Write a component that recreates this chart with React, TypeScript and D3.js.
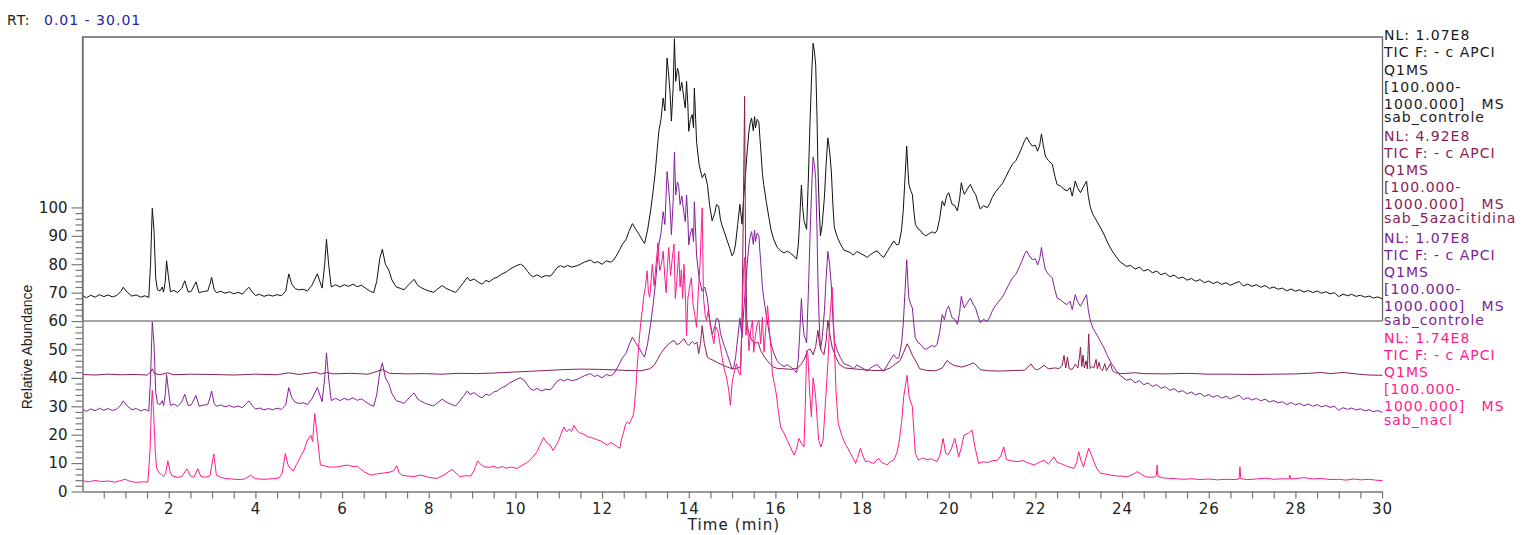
import React, { useEffect, useRef } from 'react';
import * as d3 from 'd3';

// run window (min)
const rtLabel = '0.01 - 30.01';
const timeDomain = [0.01, 30.01];

// sab_controle TIC, [time (min), relative abundance as read on the plot]
// (the same file is drawn twice: upper box and lower stack)
const controle: [number, number][] = [
  [0.01, 69.0], [0.1, 68.2], [0.2, 69.1], [0.3, 68.4], [0.4, 69.3], [0.5, 68.6], [0.6, 69.2], [0.7, 68.5],
  [0.8, 69.0], [0.9, 70.5], [0.95, 71.9], [1.05, 70.0], [1.15, 68.8], [1.25, 69.2], [1.35, 68.4], [1.45, 68.9],
  [1.54, 68.3], [1.58, 80], [1.62, 99.7], [1.66, 92], [1.7, 75], [1.74, 71.0], [1.8, 70.6], [1.85, 72.0],
  [1.88, 70.2], [1.92, 74], [1.95, 81.2], [1.99, 76], [2.04, 70.3], [2.12, 70.8], [2.2, 70.0], [2.3, 71.5],
  [2.37, 74.2], [2.45, 70.2], [2.52, 70.5], [2.63, 73.8], [2.7, 70.0], [2.8, 70.4], [2.9, 70.6], [2.95, 73],
  [2.99, 75.4], [3.05, 71], [3.1, 70.0], [3.2, 70.5], [3.3, 69.8], [3.4, 70.3], [3.5, 69.6], [3.6, 70.1],
  [3.7, 69.5], [3.78, 70.8], [3.85, 71.9], [3.93, 70.2], [4.0, 69.0], [4.1, 69.4], [4.2, 68.7], [4.3, 69.2],
  [4.4, 68.8], [4.5, 69.3], [4.6, 68.9], [4.7, 70.5], [4.77, 76.6], [4.84, 73], [4.92, 71.4], [5.0, 71.0],
  [5.1, 71.2], [5.2, 70.6], [5.3, 72.5], [5.43, 76.6], [5.54, 71.6], [5.6, 80], [5.64, 88.8], [5.69, 80],
  [5.75, 72.0], [5.85, 72.8], [5.95, 72.0], [6.05, 72.8], [6.15, 72.2], [6.25, 73.0], [6.35, 72.1], [6.45, 72.6],
  [6.55, 71.5], [6.65, 70.5], [6.73, 70.0], [6.8, 74], [6.87, 82], [6.93, 85.3], [7.0, 80], [7.08, 77.9],
  [7.15, 74.5], [7.25, 72.0], [7.35, 71.5], [7.43, 71.0], [7.55, 73], [7.66, 74.7], [7.75, 72.5], [7.81, 71.9],
  [7.9, 71.2], [8.0, 70.6], [8.11, 70.1], [8.2, 71.2], [8.31, 72.5], [8.4, 71.5], [8.5, 70.8], [8.62, 70.1],
  [8.7, 71.5], [8.8, 73.5], [8.89, 75.4], [8.95, 74.2], [9.05, 74.8], [9.15, 73.6], [9.23, 73.0], [9.32, 74.3],
  [9.4, 73.8], [9.5, 75.0], [9.58, 75.4], [9.68, 76.5], [9.78, 77.2], [9.86, 78.1], [9.95, 78.9], [10.04, 79.6],
  [10.12, 80.0], [10.2, 79.2], [10.28, 77.5], [10.36, 76.0], [10.42, 75.6], [10.5, 76.3], [10.6, 75.4], [10.7, 76.0],
  [10.81, 75.8], [10.9, 77.5], [10.96, 78.8], [11.04, 79.5], [11.12, 78.9], [11.2, 79.6], [11.3, 79.0], [11.43, 79.5],
  [11.52, 80.2], [11.6, 80.8], [11.73, 81.5], [11.82, 80.5], [11.9, 80.9], [12.0, 80.0], [12.1, 81.2], [12.2, 80.7],
  [12.27, 81.5], [12.35, 83.5], [12.42, 85.5], [12.47, 87.1], [12.55, 88.6], [12.62, 91.5], [12.7, 94.3], [12.77, 92.5],
  [12.85, 90.6], [12.93, 88.5], [12.98, 87.3], [13.05, 92], [13.12, 98.8], [13.18, 106], [13.23, 112.8], [13.27, 120],
  [13.31, 126.8], [13.36, 131], [13.41, 138.5], [13.45, 134], [13.5, 152.6], [13.53, 147.9], [13.57, 140], [13.6, 130.4],
  [13.64, 142], [13.67, 159.4], [13.7, 144.4], [13.74, 149], [13.77, 147.3], [13.8, 141], [13.84, 144], [13.89, 138.0],
  [13.92, 135], [13.95, 144.4], [13.98, 136], [14.0, 126.8], [14.04, 131], [14.08, 132.7], [14.11, 128], [14.13, 142.0],
  [14.16, 131], [14.18, 123.3], [14.24, 115], [14.31, 110.5], [14.37, 112], [14.43, 108.1], [14.48, 101], [14.54, 95.3],
  [14.6, 98], [14.64, 101], [14.69, 100.5], [14.73, 96], [14.77, 93.5], [14.83, 91], [14.89, 88.2], [14.95, 85.5],
  [15.0, 83.0], [15.04, 84], [15.08, 87.1], [15.13, 94], [15.18, 101.1], [15.23, 94.1], [15.27, 104], [15.31, 111.6],
  [15.35, 120], [15.39, 126.8], [15.42, 129.8], [15.45, 131.5], [15.49, 127], [15.52, 132], [15.54, 128.0], [15.58, 131],
  [15.62, 130.0], [15.64, 125], [15.66, 121.0], [15.7, 112], [15.73, 108.1], [15.79, 102], [15.85, 96.4], [15.9, 92],
  [15.96, 88.8], [16.04, 86.0], [16.12, 84.7], [16.2, 84.0], [16.28, 84.6], [16.35, 83.8], [16.42, 83.0], [16.49, 81.8],
  [16.53, 87], [16.56, 95.3], [16.6, 107.9], [16.63, 100], [16.66, 95.3], [16.72, 92.3], [16.76, 110], [16.8, 130.4],
  [16.84, 148], [16.87, 157.8], [16.9, 155], [16.93, 150.2], [16.96, 132], [16.98, 115.2], [17.01, 100], [17.04, 90.0],
  [17.08, 94], [17.13, 103.4], [17.17, 115], [17.21, 124.5], [17.25, 120], [17.29, 112.8], [17.33, 100], [17.36, 92.9],
  [17.43, 89.5], [17.5, 87.1], [17.58, 85.0], [17.65, 84.6], [17.73, 84.1], [17.8, 83.2], [17.88, 84.5], [17.96, 83.8],
  [18.04, 83.2], [18.12, 82.4], [18.2, 83.5], [18.27, 84.2], [18.35, 84.7], [18.42, 83.4], [18.5, 82.4], [18.58, 84.5],
  [18.65, 86.2], [18.73, 88.2], [18.8, 86.8], [18.85, 87.1], [18.91, 92], [18.95, 98.8], [18.99, 110], [19.03, 121.6],
  [19.06, 113], [19.08, 108.1], [19.12, 106], [19.16, 104.6], [19.2, 98], [19.23, 94.1], [19.29, 92.5], [19.35, 91.8],
  [19.41, 90.6], [19.47, 90.0], [19.55, 90.8], [19.62, 91.4], [19.68, 90.9], [19.73, 91.8], [19.79, 96], [19.85, 102.3],
  [19.9, 100.5], [19.95, 104], [20.0, 105.2], [20.04, 103], [20.08, 101.1], [20.14, 100.6], [20.2, 98.8], [20.25, 103],
  [20.29, 108.7], [20.33, 106], [20.36, 104.6], [20.43, 106.5], [20.5, 108.1], [20.56, 106], [20.62, 104.6], [20.67, 102],
  [20.73, 99.4], [20.8, 100.6], [20.89, 99.9], [20.95, 101.5], [21.0, 103.4], [21.08, 105.5], [21.16, 107.0], [21.24, 108.5],
  [21.31, 110.5], [21.39, 113.0], [21.47, 115.2], [21.55, 116.5], [21.62, 118.7], [21.7, 121.5], [21.75, 123.5], [21.8, 124.7],
  [21.86, 123], [21.93, 121.6], [22.0, 121.9], [22.05, 119.8], [22.1, 122], [22.14, 125.9], [22.18, 122], [22.23, 118.1],
  [22.3, 116.5], [22.39, 115.2], [22.45, 111], [22.5, 108.1], [22.58, 107.5], [22.66, 106.4], [22.73, 105.8], [22.8, 107],
  [22.85, 104.0], [22.92, 109.3], [22.97, 107], [23.04, 105.2], [23.1, 107], [23.18, 109.3], [23.22, 104], [23.27, 99.9],
  [23.33, 97.5], [23.39, 95.9], [23.48, 93.5], [23.58, 90.6], [23.67, 87.5], [23.77, 84.7], [23.87, 82.5], [23.97, 80.6],
  [24.0, 80.4], [24.1, 79.2], [24.2, 79.6], [24.3, 78.3], [24.4, 79.0], [24.5, 77.6], [24.6, 78.2], [24.7, 77.0],
  [24.8, 77.6], [24.9, 76.3], [25.0, 76.9], [25.1, 75.6], [25.2, 76.2], [25.3, 75.0], [25.4, 75.5], [25.5, 74.4],
  [25.6, 75.0], [25.7, 74.0], [25.8, 74.6], [25.9, 73.5], [26.0, 74.1], [26.1, 73.2], [26.2, 73.8], [26.3, 72.9],
  [26.4, 73.5], [26.5, 72.6], [26.6, 73.3], [26.7, 73.9], [26.8, 72.4], [26.9, 73.0], [27.0, 72.2], [27.1, 72.8],
  [27.2, 71.9], [27.3, 72.5], [27.4, 71.5], [27.5, 72.0], [27.6, 71.2], [27.7, 71.6], [27.8, 70.6], [27.9, 71.3],
  [28.0, 70.5], [28.1, 71.0], [28.2, 70.2], [28.3, 70.8], [28.4, 70.0], [28.5, 70.6], [28.6, 69.8], [28.7, 70.3],
  [28.8, 69.6], [28.9, 70.0], [29.0, 68.6], [29.1, 69.5], [29.2, 68.9], [29.3, 69.4], [29.4, 68.7], [29.5, 69.1],
  [29.6, 68.4], [29.7, 68.8], [29.8, 68.1], [29.9, 68.5], [30.01, 67.8],
];

// sab_5azacitidina TIC
const azacitidina: [number, number][] = [
  [0.01, 41.2], [0.3, 41.0], [0.6, 41.3], [0.9, 41.1], [1.2, 41.2], [1.5, 41.0], [1.58, 42], [1.62, 43.2],
  [1.67, 41.5], [1.8, 41.1], [1.98, 41.8], [2.1, 41.1], [2.5, 41.3], [3.0, 41.2], [3.5, 41.0], [4.0, 41.3],
  [4.5, 41.1], [4.77, 41.8], [5.0, 41.2], [5.4, 42.0], [5.5, 41.3], [5.64, 41.9], [5.8, 41.4], [6.2, 41.6],
  [6.6, 41.3], [6.93, 42.9], [7.1, 41.6], [7.5, 41.4], [7.9, 41.5], [8.3, 41.3], [8.7, 41.6], [9.1, 41.5],
  [9.5, 41.7], [9.9, 42.0], [10.3, 42.3], [10.7, 42.6], [11.1, 42.9], [11.5, 43.1], [11.9, 43.0], [12.3, 42.8],
  [12.6, 42.6], [12.9, 42.5], [13.1, 43.2], [13.2, 44.4], [13.28, 46.5], [13.35, 48.5], [13.42, 50.0], [13.5, 51.4],
  [13.58, 52.5], [13.66, 53.2], [13.72, 51.8], [13.78, 52.0], [13.84, 53.0], [13.89, 53.8], [13.95, 52.2], [14.0, 51.4],
  [14.08, 52.8], [14.14, 51.9], [14.19, 52.6], [14.23, 48.5], [14.27, 52], [14.31, 58.4], [14.36, 52], [14.43, 47.3],
  [14.5, 46.6], [14.58, 46.1], [14.66, 45.4], [14.73, 44.9], [14.8, 44.4], [14.89, 43.8], [14.97, 43.4], [15.04, 43.2],
  [15.12, 43.4], [15.2, 44.0], [15.23, 60], [15.26, 100], [15.29, 139.1], [15.31, 86], [15.34, 60], [15.37, 56.7],
  [15.43, 54.0], [15.48, 52.8], [15.54, 52.2], [15.6, 52.6], [15.66, 49.6], [15.74, 47.5], [15.81, 46.1], [15.88, 44.8],
  [15.96, 43.8], [16.05, 43.3], [16.2, 43.2], [16.35, 43.0], [16.5, 43.3], [16.6, 44.9], [16.68, 47], [16.74, 49.6],
  [16.8, 50.2], [16.87, 48.2], [16.93, 51], [16.98, 56.7], [17.02, 52], [17.06, 49.6], [17.12, 48.2], [17.17, 53],
  [17.21, 60.2], [17.26, 55], [17.31, 50.8], [17.39, 47.5], [17.47, 44.9], [17.6, 43.5], [17.8, 43.2], [18.0, 42.9],
  [18.3, 42.6], [18.5, 42.6], [18.65, 43.5], [18.73, 44.4], [18.88, 46.1], [18.96, 49], [19.04, 52.0], [19.1, 50.2],
  [19.16, 48], [19.21, 46.7], [19.33, 43.2], [19.5, 42.6], [19.7, 42.5], [19.85, 43.5], [19.96, 46.1], [20.05, 45.0],
  [20.12, 44.4], [20.3, 43.8], [20.45, 44.5], [20.58, 45.3], [20.73, 42.9], [20.9, 42.5], [21.2, 42.4], [21.5, 42.6],
  [21.75, 42.7], [21.9, 44.9], [21.98, 43.2], [22.05, 42.8], [22.2, 44.4], [22.3, 43.2], [22.45, 43.5], [22.55, 43.3],
  [22.62, 44.5], [22.66, 47.9], [22.7, 43.5], [22.74, 47.3], [22.78, 43.2], [22.85, 43.0], [22.92, 44.8], [22.98, 43.5],
  [23.02, 47.9], [23.04, 50.8], [23.07, 44], [23.1, 48], [23.13, 43.5], [23.17, 46], [23.2, 43.2], [23.23, 55.5],
  [23.26, 43.3], [23.3, 44], [23.35, 43.5], [23.4, 46.5], [23.43, 43.2], [23.47, 45.5], [23.5, 43.3], [23.55, 42.6],
  [23.6, 45], [23.64, 42.5], [23.73, 45.0], [23.78, 42.5], [23.85, 41.8], [23.97, 41.5], [24.1, 41.6], [24.3, 41.8],
  [24.5, 41.5], [25.0, 41.4], [25.5, 41.6], [26.0, 41.3], [26.5, 41.3], [27.0, 41.2], [27.5, 41.3], [28.0, 41.4],
  [28.3, 41.6], [28.6, 41.9], [28.8, 41.5], [29.1, 41.9], [29.4, 41.4], [29.7, 41.0], [30.01, 40.9],
];

// sab_nacl TIC
const nacl: [number, number][] = [
  [0.01, 3.8], [0.15, 3.4], [0.3, 3.9], [0.45, 3.5], [0.6, 3.7], [0.75, 3.3], [0.9, 3.9], [1.0, 4.3],
  [1.1, 3.6], [1.25, 3.2], [1.4, 3.4], [1.52, 3.3], [1.57, 15], [1.6, 30], [1.62, 35.6], [1.65, 28],
  [1.69, 14], [1.72, 8.3], [1.78, 6.5], [1.83, 6.0], [1.88, 5.2], [1.93, 6.5], [1.98, 10.8], [2.03, 7.0],
  [2.08, 5.5], [2.2, 5.0], [2.3, 5.2], [2.42, 8.0], [2.5, 5.5], [2.58, 5.0], [2.67, 8.0], [2.74, 5.3],
  [2.85, 5.0], [2.95, 5.5], [3.04, 13.2], [3.1, 5.7], [3.2, 5.0], [3.3, 4.6], [3.45, 4.4], [3.6, 4.2],
  [3.75, 4.4], [3.89, 5.7], [4.0, 4.5], [4.2, 4.3], [4.4, 4.5], [4.55, 4.8], [4.62, 6.5], [4.69, 13.4],
  [4.76, 9.0], [4.87, 7.2], [4.95, 9.5], [5.04, 12.2], [5.12, 14.5], [5.2, 18.1], [5.28, 19.8], [5.32, 17.6],
  [5.37, 27.4], [5.43, 19.3], [5.5, 9.3], [5.6, 9.0], [5.7, 8.6], [5.87, 8.6], [6.0, 9.0], [6.12, 9.3],
  [6.25, 8.8], [6.35, 8.9], [6.5, 7.0], [6.66, 5.8], [6.8, 6.2], [6.95, 6.5], [7.1, 6.8], [7.2, 7.4],
  [7.26, 9.1], [7.32, 6.5], [7.39, 5.7], [7.5, 5.5], [7.65, 5.2], [7.81, 5.8], [8.0, 5.0], [8.19, 4.6],
  [8.35, 5.8], [8.45, 6.9], [8.54, 7.8], [8.63, 6.5], [8.72, 5.2], [8.85, 5.6], [8.97, 5.4], [9.05, 7.5],
  [9.13, 10.8], [9.2, 9.5], [9.28, 8.7], [9.4, 8.5], [9.5, 8.9], [9.6, 8.2], [9.7, 8.8], [9.78, 8.2],
  [9.9, 8.6], [10.04, 8.1], [10.15, 9.2], [10.25, 10.0], [10.34, 11.1], [10.42, 12.5], [10.5, 14.0], [10.58, 16.8],
  [10.65, 19.0], [10.72, 17.2], [10.8, 16.4], [10.87, 14.4], [10.95, 16.5], [11.0, 18.0], [11.06, 20.5], [11.12, 22.7],
  [11.18, 21.0], [11.24, 22.0], [11.3, 21.2], [11.35, 23.3], [11.42, 21.5], [11.5, 20.5], [11.58, 20.2], [11.66, 19.3],
  [11.75, 19.0], [11.82, 18.6], [11.89, 18.2], [11.97, 17.8], [12.05, 17.0], [12.12, 16.4], [12.2, 17.2], [12.27, 16.6],
  [12.35, 15.8], [12.41, 15.2], [12.45, 18.5], [12.49, 20.5], [12.54, 23.5], [12.58, 24.5], [12.63, 23.8], [12.68, 25.5],
  [12.73, 27.4], [12.78, 36], [12.81, 43.8], [12.85, 52], [12.89, 59.0], [12.93, 64], [12.96, 68.4], [13.0, 72],
  [13.04, 77.7], [13.07, 70], [13.1, 68.4], [13.13, 74], [13.16, 80.0], [13.2, 72.4], [13.24, 79], [13.27, 84],
  [13.29, 87.6], [13.33, 77.7], [13.37, 80], [13.41, 84.6], [13.45, 75], [13.48, 70], [13.51, 80], [13.54, 85.9],
  [13.58, 76], [13.62, 82], [13.66, 87.1], [13.69, 68.0], [13.73, 75], [13.77, 84.6], [13.8, 72], [13.83, 78],
  [13.86, 68], [13.89, 80.0], [13.92, 70], [13.95, 54.9], [13.98, 68], [14.02, 72], [14.06, 75.3], [14.1, 66.0],
  [14.14, 62], [14.18, 57.8], [14.22, 70], [14.26, 80.0], [14.31, 99.9], [14.34, 68.4], [14.38, 62], [14.41, 60.2],
  [14.45, 63.7], [14.5, 58], [14.54, 55], [14.58, 52.0], [14.62, 58], [14.67, 56.7], [14.72, 52], [14.77, 47.3],
  [14.82, 43], [14.87, 40.3], [14.92, 36], [14.96, 30.4], [15.0, 38], [15.04, 41.5], [15.1, 45.0], [15.15, 42],
  [15.19, 41.0], [15.23, 60.2], [15.26, 76.6], [15.29, 82.4], [15.32, 55], [15.35, 60.2], [15.39, 49.6], [15.43, 56.7],
  [15.47, 60.2], [15.5, 49], [15.54, 55], [15.58, 59.0], [15.62, 60.2], [15.66, 52], [15.7, 61.3], [15.74, 49.0],
  [15.78, 58], [15.82, 65.4], [15.86, 56.7], [15.9, 50], [15.93, 41.5], [16.02, 34.4], [16.07, 28], [16.12, 22.7],
  [16.2, 20.5], [16.27, 18.1], [16.35, 15.5], [16.43, 12.8], [16.49, 15], [16.54, 18.7], [16.6, 17], [16.66, 15.7],
  [16.69, 30], [16.72, 49.6], [16.75, 48], [16.79, 35], [16.83, 26.3], [16.87, 40.0], [16.9, 37], [16.93, 33],
  [16.97, 24], [17.0, 18], [17.05, 15.7], [17.1, 18], [17.15, 30], [17.21, 45], [17.26, 62], [17.31, 71.9],
  [17.35, 56], [17.4, 35], [17.45, 23.9], [17.54, 19.4], [17.62, 16.5], [17.68, 15], [17.73, 13.4], [17.8, 11.5],
  [17.85, 9.9], [17.9, 12], [17.96, 15.2], [18.02, 12.5], [18.08, 10.5], [18.15, 10.8], [18.2, 10.2], [18.27, 9.9],
  [18.33, 11.0], [18.39, 11.6], [18.45, 10.2], [18.52, 9.8], [18.58, 9.3], [18.65, 10.5], [18.73, 11.0], [18.8, 13.5],
  [18.85, 16.9], [18.91, 24], [18.96, 33.3], [19.04, 40.9], [19.08, 34], [19.12, 31.5], [19.16, 30], [19.2, 20],
  [19.23, 13.4], [19.3, 11.0], [19.4, 11.8], [19.5, 11.2], [19.6, 11.5], [19.73, 10.5], [19.8, 13], [19.87, 18.7],
  [19.93, 13.4], [19.99, 13.0], [20.06, 15], [20.14, 18.7], [20.23, 12.2], [20.3, 16], [20.35, 19.8], [20.45, 20.5],
  [20.54, 21.6], [20.6, 16], [20.69, 9.9], [20.8, 10.5], [20.9, 10.2], [21.0, 10.8], [21.12, 11.0], [21.2, 12.5],
  [21.27, 15.7], [21.33, 11.2], [21.45, 10.8], [21.6, 10.5], [21.7, 10.9], [21.81, 10.2], [21.97, 9.3], [22.08, 10.2],
  [22.2, 11.0], [22.3, 9.6], [22.43, 12.2], [22.5, 10.2], [22.58, 9.9], [22.68, 9.2], [22.77, 8.7], [22.89, 8.1],
  [22.95, 10], [23.0, 14.0], [23.05, 11], [23.11, 8.7], [23.17, 12], [23.23, 15.2], [23.29, 13], [23.35, 10.5],
  [23.42, 8], [23.5, 6.4], [23.6, 6.2], [23.73, 5.8], [23.85, 5.5], [24.0, 5.4], [24.12, 5.2], [24.25, 6.0],
  [24.35, 7.0], [24.45, 6.0], [24.55, 5.2], [24.65, 5.0], [24.75, 5.1], [24.79, 5.5], [24.81, 9.3], [24.83, 5.3],
  [24.95, 4.8], [25.1, 4.6], [25.25, 4.5], [25.43, 4.3], [25.6, 4.5], [25.8, 4.2], [26.0, 4.4], [26.2, 4.1],
  [26.4, 4.3], [26.58, 4.2], [26.7, 4.4], [26.72, 8.7], [26.74, 4.5], [26.9, 4.2], [27.1, 4.4], [27.3, 4.7],
  [27.5, 4.3], [27.7, 4.5], [27.85, 4.4], [27.87, 5.8], [27.89, 4.4], [28.05, 4.6], [28.2, 4.9], [28.4, 4.4],
  [28.6, 4.6], [28.8, 4.2], [29.0, 4.3], [29.17, 4.0], [29.35, 4.4], [29.5, 4.1], [29.7, 4.3], [29.85, 4.0],
  [30.01, 3.8],
];

// header text of each trace block (right side)
const blockNL = ['NL: 1.07E8', 'NL: 4.92E8', 'NL: 1.07E8', 'NL: 1.74E8'];
const blockFilter = ['TIC F: - c APCI', 'Q1MS', '[100.000-', '1000.000]   MS'];
const blockName = ['sab_controle', 'sab_5azacitidina', 'sab_controle', 'sab_nacl'];

const yTickMax = 100;

const W = 1536;
const H = 535;
const margin = { left: 82.5, right: 153.5, top: 37, bottom: 43.5 };

const App = () => {
  const svgRef = useRef<SVGSVGElement>(null);

  useEffect(() => {
    const svg = d3.select(svgRef.current);
    svg.selectAll('*').remove();

    const x = d3.scaleLinear().domain(timeDomain).range([margin.left, W - margin.right]);
    const y = d3.scaleLinear().domain([0, 160]).range([H - margin.bottom, margin.top]);

    // upper box of the first trace
    svg.append('path')
      .attr('d', `M${x(timeDomain[0])},${y(60)}V${y(160)}H${x(timeDomain[1])}V${y(60)}`)
      .attr('fill', 'none')
      .attr('stroke', '#666')
      .attr('stroke-width', 1.3);

    svg.append('line')
      .attr('x1', x(timeDomain[0])).attr('x2', x(timeDomain[1]))
      .attr('y1', y(60)).attr('y2', y(60))
      .attr('stroke', '#a3a3a3')
      .attr('stroke-width', 2);

    /* traces -------------------------------*/
    const traces = [
      { name: 'controle-top', data: controle, offset: 0, color: '#111111' },
      { name: 'controle-low', data: controle, offset: -40, color: '#84209b' },
      { name: 'azacitidina', data: azacitidina, offset: 0, color: '#8c1c55' },
      { name: 'nacl', data: nacl, offset: 0, color: '#ff1a8c' },
    ];

    traces.forEach(tr => {
      const line = d3.line<[number, number]>()
        .x(d => x(d[0]))
        .y(d => y(d[1] + tr.offset));
      svg.append('path')
        .datum(tr.data)
        .attr('class', tr.name)
        .attr('d', line)
        .attr('fill', 'none')
        .attr('stroke', tr.color)
        .attr('stroke-width', 1)
        .attr('stroke-linejoin', 'round');
    });

    /* axes -------------------------------*/
    const xAxis = d3.axisBottom(x)
      .tickValues(d3.range(0.5, 30.01, 0.5))
      .tickSize(7)
      .tickSizeOuter(0)
      .tickPadding(5)
      .tickFormat(d => (+d % 2 === 0 ? String(d) : ''));

    const gx = svg.append('g')
      .attr('transform', `translate(0, ${H - margin.bottom})`)
      .call(xAxis);

    const yAxis = d3.axisLeft(y)
      .tickValues(d3.range(0, yTickMax + 1, 2))
      .tickSize(7)
      .tickSizeOuter(0)
      .tickPadding(8)
      .tickFormat(d => (+d % 10 === 0 ? String(d) : ''));

    const gy = svg.append('g')
      .attr('transform', `translate(${margin.left}, 0)`)
      .call(yAxis);

    gy.selectAll<SVGGElement, number>('.tick')
      .filter(d => d % 10 === 0)
      .select('line')
      .attr('x2', -11);

    [gx, gy].forEach(g => {
      g.select('.domain').attr('stroke', '#777').attr('stroke-width', 1.5);
      g.selectAll('.tick line').attr('stroke', '#777').attr('stroke-width', 1.2);
      g.selectAll('.tick text')
        .attr('fill', '#222')
        .style('font-family', '"DejaVu Sans", sans-serif')
        .style('font-size', '15px');
    });
    gx.selectAll('.tick text').style('letter-spacing', '1px');

    svg.append('text')
      .attr('x', 734)
      .attr('y', 530)
      .attr('text-anchor', 'middle')
      .style('font-family', '"DejaVu Sans", sans-serif')
      .style('font-size', '15px')
      .style('letter-spacing', '1.1px')
      .attr('fill', '#222')
      .text('Time (min)');

    svg.append('text')
      .attr('transform', 'translate(31.5, 347) rotate(-90)')
      .attr('text-anchor', 'middle')
      .style('font-family', '"Liberation Sans", Arial, sans-serif')
      .style('font-size', '14px')
      .attr('fill', '#222')
      .text('Relative Abundance');

    // RT header
    const rt = svg.append('text')
      .attr('x', 7)
      .attr('y', 25)
      .style('font-family', '"DejaVu Sans", sans-serif')
      .style('font-size', '14px')
      .style('letter-spacing', '1px');
    rt.append('tspan').attr('fill', '#222').text('RT:');
    rt.append('tspan').attr('x', 44).attr('fill', '#2323a8').text(rtLabel);

    /* trace headers -------------------------------*/
    const blockColors = ['#1a1a1a', '#8c1c55', '#7d2294', '#ff1a8c'];
    const blockTop = [40, 140.5, 242.5, 342.5];
    const lineOffsets = [0, 17.3, 34.6, 51.9, 68.8, 82.2];

    blockNL.forEach((nl, b) => {
      const lines = [nl, ...blockFilter, blockName[b]];
      lines.forEach((txt, i) => {
        svg.append('text')
          .attr('x', 1384)
          .attr('y', blockTop[b] + lineOffsets[i])
          .attr('fill', blockColors[b])
          .style('font-family', '"DejaVu Sans", sans-serif')
          .style('font-size', '14px')
          .style('letter-spacing', '1px')
          .style('white-space', 'pre')
          .text(txt);
      });
    });
  }, []);

  return (
    <svg
      ref={svgRef}
      width={W}
      height={H}
      style={{ position: 'absolute', left: 0, top: 0, background: '#fff' }}
    />
  );
};

export default App;
